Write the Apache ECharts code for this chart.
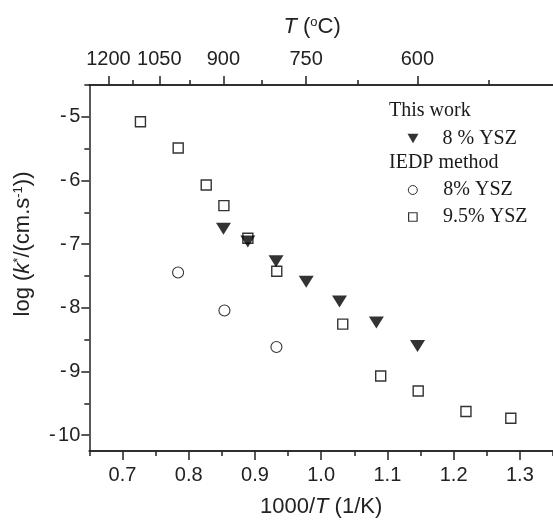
<!DOCTYPE html>
<html>
<head>
<meta charset="utf-8">
<script src="https://cdn.jsdelivr.net/npm/echarts@6/dist/echarts.min.js"></script>
<style>
html,body{margin:0;padding:0;background:#fff;}
#chart{width:553px;height:523px;}
</style>
</head>
<body>
<div id="chart"></div>
<script>
// ---- data ----
var thisWorkX = [0.8525, 0.8893, 0.9319, 0.9775, 1.0277, 1.0834, 1.1455];
var thisWorkY = [-6.76, -6.96, -7.27, -7.59, -7.90, -8.23, -8.60];
var iedp8X = [0.7840, 0.8540, 0.9325];
var iedp8Y = [-7.445, -8.043, -8.616];
var iedp95X = [0.7272, 0.7842, 0.8265, 0.8532, 0.8894, 0.9330, 1.0326, 1.0899, 1.1465, 1.2186, 1.2863];
var iedp95Y = [-5.078, -5.490, -6.072, -6.395, -6.907, -7.425, -8.257, -9.071, -9.307, -9.630, -9.735];
var bottomTicks = [0.7, 0.8, 0.9, 1.0, 1.1, 1.2, 1.3];
var bottomMinor = [0.65, 0.75, 0.85, 0.95, 1.05, 1.15, 1.25, 1.35];
var leftTicks = [-10, -9, -8, -7, -6, -5];
var leftMinor = [-9.5, -8.5, -7.5, -6.5, -5.5, -4.5];
var topTicksC = [1200, 1050, 900, 750, 600];
var topMinorC = [1125, 975, 825, 675, 525];
var legendNames = ['8 % YSZ', '8% YSZ', '9.5% YSZ'];

function zip(xs, ys){ return xs.map(function(x,i){return [x, ys[i]];}); }
function cToInv(c){ return 1000/(c+273.15); }

var AX = '#222';
var sans = 'Liberation Sans, Arial, sans-serif';
var serif = 'Liberation Serif, Times New Roman, serif';
var XMIN = 0.65, XMAX = 1.35, YMIN = -10.25, YMAX = -4.5;

function xaxis(pos, opts){
  var base = {
    type:'value', position:pos, min:XMIN, max:XMAX,
    axisLine:{show:true, onZero:false, lineStyle:{color:AX, width:1.5}},
    splitLine:{show:false},
    axisTick:{show:false},
    axisLabel:{show:false}
  };
  for (var k in opts) base[k] = opts[k];
  return base;
}

var option = {
  animation:false,
  backgroundColor:'#fff',
  grid:{left:89.3, top:85, width:470.3, bottom:69, containLabel:false},
  xAxis:[
    xaxis('bottom', {
      name:'1000/{i|T} (1/K)', nameLocation:'middle', nameGap:45,
      nameTextStyle:{fontFamily:sans, fontSize:22, color:AX,
        rich:{i:{fontFamily:sans, fontSize:22, fontStyle:'italic', color:AX}}},
      axisTick:{show:true, inside:false, length:9, customValues:bottomTicks, lineStyle:{color:AX, width:1.5}},
      axisLabel:{show:true, customValues:bottomTicks, margin:14, fontFamily:sans, fontSize:20, color:AX,
        formatter:function(v){return v.toFixed(1);}}
    }),
    xaxis('bottom', {
      axisTick:{show:true, inside:false, length:5, customValues:bottomMinor, lineStyle:{color:AX, width:1.5}}
    }),
    xaxis('top', {
      name:'{i|T} ({sup|o}C)', nameLocation:'middle', nameGap:47,
      nameTextStyle:{fontFamily:sans, fontSize:22, color:AX, padding:[0,18,0,0],
        rich:{i:{fontFamily:sans, fontSize:22, fontStyle:'italic', color:AX},
              sup:{fontFamily:sans, fontSize:13, color:AX, verticalAlign:'top'}}},
      axisTick:{show:true, inside:false, length:9, customValues:topTicksC.map(cToInv), lineStyle:{color:AX, width:1.5}},
      axisLabel:{show:true, customValues:topTicksC.map(cToInv), margin:16, fontFamily:sans, fontSize:20, color:AX,
        formatter:function(v){return String(Math.round(1000/v - 273.15));}}
    }),
    xaxis('top', {
      axisTick:{show:true, inside:false, length:5, customValues:topMinorC.map(cToInv), lineStyle:{color:AX, width:1.5}}
    })
  ],
  yAxis:[
    {
      type:'value', position:'left', min:YMIN, max:YMAX,
      name:'log ({i|k}{sup|*}/(cm.s{sup|-1}))', nameLocation:'middle', nameGap:55,
      nameTextStyle:{fontFamily:sans, fontSize:22, color:AX, padding:[0,0,0,48],
        rich:{i:{fontFamily:sans, fontSize:22, fontStyle:'italic', color:AX},
              sup:{fontFamily:sans, fontSize:13, color:AX, verticalAlign:'top'}}},
      axisLine:{show:true, onZero:false, lineStyle:{color:AX, width:1.5}},
      splitLine:{show:false},
      axisTick:{show:true, inside:false, length:8, customValues:leftTicks, lineStyle:{color:AX, width:1.5}},
      axisLabel:{show:true, customValues:leftTicks, margin:9, fontFamily:sans, fontSize:20, color:AX,
        rich:{m:{fontFamily:sans, fontSize:20, color:AX, padding:[0,2.5,0,0]}},
        formatter:function(v){return v < 0 ? '{m|-}' + String(-v) : String(v);}}
    },
    {
      type:'value', position:'left', min:YMIN, max:YMAX,
      axisLine:{show:false}, splitLine:{show:false}, axisLabel:{show:false},
      axisTick:{show:true, inside:false, length:5, customValues:leftMinor, lineStyle:{color:AX, width:1.5}}
    }
  ],
  legend:[
    {data:[legendNames[0]], left:407.5, top:128.5, padding:0, itemWidth:11, itemHeight:10,
     icon:'path://M0,0 L10,0 L5,8.66 Z',
     textStyle:{fontFamily:serif, fontSize:20, color:'#1a1a1a', padding:[0,0,0,19]}},
    {data:[legendNames[1]], left:407.8, top:180, padding:0, itemWidth:9, itemHeight:9, icon:'circle',
     itemStyle:{borderWidth:1},
     textStyle:{fontFamily:serif, fontSize:20, color:'#1a1a1a', padding:[0,0,0,21]}},
    {data:[legendNames[2]], left:408, top:207, padding:0, itemWidth:8.5, itemHeight:8.5, icon:'rect',
     itemStyle:{borderWidth:1.2},
     textStyle:{fontFamily:serif, fontSize:20, color:'#1a1a1a', padding:[0,0,0,21]}}
  ],
  graphic:[
    {type:'text', left:389, top:101, style:{text:'This work', font:'20px Liberation Serif', fill:'#1a1a1a'}},
    {type:'text', left:389, top:153, style:{text:'IEDP method', font:'20px Liberation Serif', fill:'#1a1a1a'}}
  ],
  series:[
    {name:legendNames[0], type:'scatter', xAxisIndex:0, yAxisIndex:0,
     symbol:'triangle', symbolRotate:180, symbolSize:[15,12],
     itemStyle:{color:'#000', borderWidth:0},
     data:zip(thisWorkX, thisWorkY)},
    {name:legendNames[1], type:'scatter', xAxisIndex:0, yAxisIndex:0,
     symbol:'circle', symbolSize:11,
     itemStyle:{color:'#fff', borderColor:'#000', borderWidth:1.1},
     data:zip(iedp8X, iedp8Y)},
    {name:legendNames[2], type:'scatter', xAxisIndex:0, yAxisIndex:0,
     symbol:'rect', symbolSize:10,
     itemStyle:{color:'#fff', borderColor:'#000', borderWidth:1.4},
     data:zip(iedp95X, iedp95Y)}
  ]
};
// draw triangles above squares
option.series.push(option.series.shift());
var chart = echarts.init(document.getElementById('chart'), null, {renderer:'canvas'});
chart.setOption(option);
</script>
</body>
</html>
